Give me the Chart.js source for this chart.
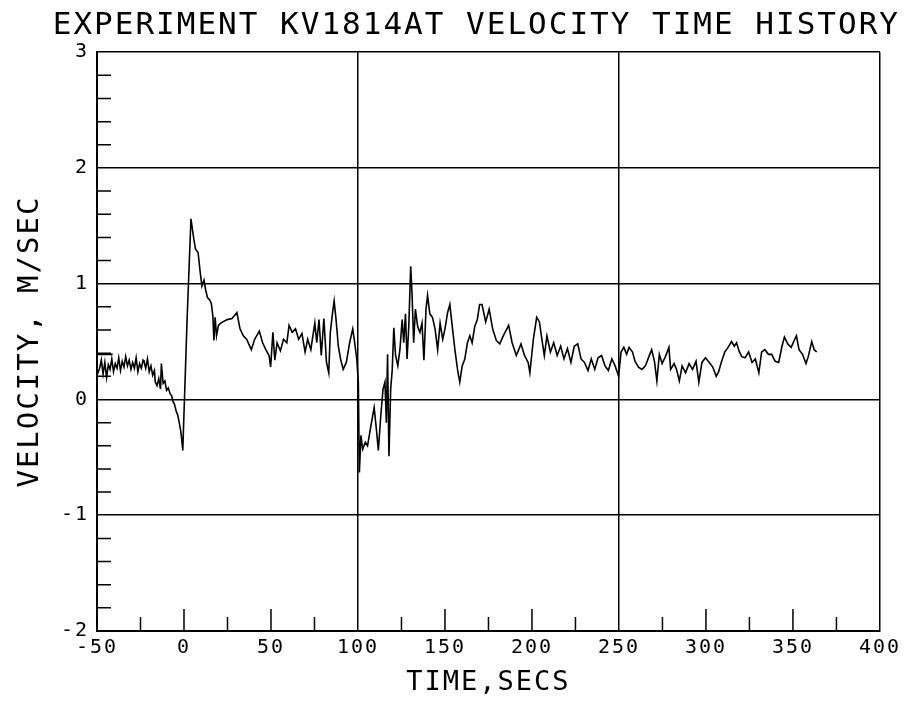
<!DOCTYPE html>
<html lang="en">
<head>
<meta charset="UTF-8" />
<title>KV1814AT Velocity Time History</title>
<script src="https://cdn.jsdelivr.net/npm/chart.js@4.4.1/dist/chart.umd.min.js"></script>
<style>
  html, body { margin:0; padding:0; background:#ffffff; }
  #v_chart { display:block; }
</style>
</head>
<body>
<canvas id="v_chart" width="906" height="705"></canvas>

<script>
// time history (secs, m/sec)
const timeSecs = [
  -41, -50, -50, -48.5, -47.5, -46.5, -45.5, -44.5, -43.5, -42.5, -41.5, -40.5, -39.5, -38.5, -37.5, -36.5, -35.5,
  -34.5, -33.5, -32.5, -31.5, -30.5, -29.5, -28.5, -27.5, -26.5, -25.5, -24.5, -23.5, -23, -22, -21, -20, -19,
  -18, -17, -16.5, -15.5, -14.5, -13.5, -13, -12, -11, -10, -9, -8, -7, -6.5, -5.5, -4.5, -3.5, -2.5, -1.8, -1.2,
  -0.7, 1.8, 4, 5.7, 6.6, 8.1, 9.3, 10.3, 11.5, 12.4, 13.5, 14.8, 15.7, 16.6, 17.2, 17.9, 18.7, 19.8, 21.1,
  24.8, 27.6, 30.4, 32.2, 34.1, 36, 38.7, 40.6, 43.3, 45.2, 47, 48.9, 49.8, 51.1, 52.2, 53.5, 55.4, 57.2, 59.1,
  60.4, 62.2, 64.1, 65.9, 67.8, 69.6, 71.1, 72.9, 75.2, 76.3, 77.6, 78.9, 80.4, 81.9, 83.2, 84.1, 85.4, 86.3,
  87.4, 88.7, 90, 91.5, 93.3, 95.2, 97, 98.1, 99.3, 100.2, 100.8, 101.7, 102.7, 104.2, 105.5, 107.4, 109.3,
  110.6, 111.7, 113.1, 114.4, 115.5, 116.3, 117, 117.8, 118.8, 119.7, 120.6, 121.6, 122.9, 124.1, 125.4, 126.3,
  127.3, 128.2, 129.2, 130.3, 131.1, 132, 133, 134.3, 135.6, 136.8, 137.9, 139.1, 140, 141.3, 142.8, 144.3,
  145.8, 147.2, 148.7, 150, 151.5, 152.8, 154.2, 155.7, 157.2, 158.5, 159.9, 161.4, 162.9, 164.3, 165.6, 167.1,
  168.6, 169.9, 171.3, 173.4, 175.4, 177.4, 179.5, 181.5, 183.5, 186.6, 188.6, 191, 193.7, 195.7, 197.8, 198.8,
  200.8, 202.7, 204.3, 205.7, 207.1, 208.6, 210.6, 212.5, 214.5, 216.5, 218.4, 220.4, 222.4, 224.3, 226.3,
  228.2, 230.2, 232.2, 234.1, 236.1, 238, 240, 242, 243.9, 245.9, 247.8, 249.8, 251.2, 252.8, 254.4, 255.8,
  257.8, 259.2, 261.2, 263.2, 265.2, 267.2, 268.8, 270.4, 271.8, 273.2, 274.8, 276.7, 278.7, 279.7, 281.7,
  283.1, 284.7, 286.3, 288.3, 290.3, 292.3, 294.3, 295.9, 297.7, 299.7, 301.9, 303.9, 305.9, 307.3, 308.8,
  310.8, 312.7, 314.7, 316.3, 317.6, 319, 320.6, 322.5, 324.5, 326.5, 328.4, 330.4, 332, 333.9, 335.9, 337.8,
  339.8, 341.8, 343.7, 345.1, 347, 349, 351, 352, 353.5, 355.5, 357.5, 358.8, 360.8, 362.2, 363.7
];
const velocity = [
  0.39, 0.39, 0.21, 0.27, 0.34, 0.22, 0.32, 0.19, 0.30, 0.26, 0.35, 0.24, 0.31, 0.27, 0.36, 0.25, 0.33,
  0.28, 0.37, 0.29, 0.34, 0.26, 0.32, 0.27, 0.36, 0.24, 0.31, 0.27, 0.34, 0.33, 0.27, 0.35, 0.24, 0.29,
  0.21, 0.25, 0.15, 0.12, 0.18, 0.09, 0.31, 0.14, 0.16, 0.08, 0.10, 0.05, 0.03, -0.01, -0.04, -0.10, -0.14, -0.22, -0.28, -0.36,
  -0.44, 0.70, 1.56, 1.38, 1.30, 1.27, 1.10, 0.98, 1.03, 0.95, 0.88, 0.86, 0.83, 0.72, 0.51, 0.71, 0.55, 0.64, 0.66,
  0.69, 0.70, 0.75, 0.61, 0.55, 0.52, 0.43, 0.52, 0.59, 0.49, 0.43, 0.38, 0.28, 0.58, 0.34, 0.49, 0.42, 0.52, 0.49,
  0.64, 0.58, 0.61, 0.52, 0.57, 0.41, 0.52, 0.43, 0.66, 0.49, 0.69, 0.38, 0.70, 0.32, 0.23, 0.58, 0.75, 0.85,
  0.69, 0.46, 0.35, 0.26, 0.32, 0.49, 0.61, 0.49, 0.35, 0.15, -0.63, -0.31, -0.43, -0.37, -0.40, -0.23, -0.07,
  -0.26, -0.44, -0.14, 0.09, 0.15, -0.20, 0.39, -0.49, 0.09, 0.26, 0.62, 0.38, 0.29, 0.43, 0.69, 0.49,
  0.74, 0.35, 0.63, 1.15, 0.90, 0.49, 0.78, 0.63, 0.58, 0.66, 0.34, 0.78, 0.90, 0.74, 0.71, 0.61,
  0.43, 0.66, 0.52, 0.61, 0.75, 0.82, 0.63, 0.43, 0.26, 0.15, 0.29, 0.35, 0.49, 0.55, 0.49, 0.63,
  0.69, 0.82, 0.82, 0.67, 0.78, 0.61, 0.51, 0.48, 0.55, 0.64, 0.49, 0.38, 0.48, 0.38, 0.32, 0.23,
  0.52, 0.71, 0.67, 0.52, 0.38, 0.55, 0.41, 0.49, 0.38, 0.46, 0.35, 0.44, 0.32, 0.46, 0.48,
  0.35, 0.32, 0.25, 0.35, 0.26, 0.36, 0.38, 0.29, 0.25, 0.35, 0.29, 0.20, 0.41, 0.45, 0.39, 0.45,
  0.41, 0.33, 0.28, 0.26, 0.29, 0.37, 0.43, 0.33, 0.16, 0.39, 0.31, 0.37, 0.45, 0.26, 0.31,
  0.26, 0.16, 0.29, 0.23, 0.31, 0.26, 0.33, 0.15, 0.32, 0.36, 0.32, 0.28, 0.20, 0.24, 0.32,
  0.41, 0.45, 0.50, 0.46, 0.49, 0.42, 0.37, 0.36, 0.41, 0.32, 0.35, 0.23, 0.41, 0.43, 0.39, 0.39,
  0.33, 0.32, 0.46, 0.54, 0.48, 0.45, 0.52, 0.55, 0.43, 0.39, 0.31, 0.37, 0.50, 0.43, 0.41
];

// axis marks
const xFullLines = [-50, 100, 250, 400];
const xInnerTicks = [-25, 0, 25, 50, 75, 125, 150, 175, 200, 225, 275, 300, 325, 350, 375];
const yInnerTicks = [-1.8, -1.6, -1.4, -1.2, -0.8, -0.6, -0.4, -0.2, 0.2, 0.4, 0.6, 0.8,
                     1.2, 1.4, 1.6, 1.8, 2.2, 2.4, 2.6, 2.8];

const FONT = "'DejaVu Sans Mono', monospace";
const LETTER_SP = '2px';

let vChart = document.getElementById('v_chart');

// pen-plotter look: wide lettering + short ticks drawn inside the frame
const plotterLook = {
	id: 'plotterLook',
	beforeLayout(chart) { chart.ctx.letterSpacing = LETTER_SP; },
	beforeDraw(chart) { chart.ctx.letterSpacing = LETTER_SP; },
	afterDraw(chart) {
		const ctx = chart.ctx;
		const a = chart.chartArea;
		const xs = chart.scales.x, ys = chart.scales.y;
		ctx.save();
		ctx.strokeStyle = '#000';
		ctx.lineWidth = 1.5;
		ctx.beginPath();
		xInnerTicks.forEach(v => {
			const px = xs.getPixelForValue(v);
			ctx.moveTo(px, a.bottom);
			ctx.lineTo(px, a.bottom - (v % 50 === 0 ? 22 : 14));
		});
		yInnerTicks.forEach(v => {
			const py = ys.getPixelForValue(v);
			ctx.moveTo(a.left, py);
			ctx.lineTo(a.left + 14, py);
		});
		ctx.stroke();
		ctx.restore();
	}
};

let vdata = {
	datasets: [{
		label: 'KV1814AT',
		data: timeSecs.map((t, i) => ({x: t, y: velocity[i]})),
		borderColor: '#000',
		borderWidth: 1.6,
		pointRadius: 0,
		tension: 0,
		fill: false
	}]
};

let voptions = {
	responsive: false,
	animation: false,
	events: [],
	layout: {padding: {left: 0, right: 6, top: 0, bottom: 0}},
	scales: {
		x: {
			type: 'linear', min: -50, max: 400,
			afterFit: s => { s.height = 74; },
			grid: {
				drawTicks: false,
				lineWidth: 1.5,
				color: c => (c.tick && xFullLines.includes(c.tick.value)) ? '#000' : 'rgba(0,0,0,0)'
			},
			border: {display: true, color: '#000', width: 2},
			ticks: {stepSize: 50, autoSkip: false, maxRotation: 0, padding: 5, color: '#000',
				font: {family: FONT, size: 20}},
			title: {display: true, text: 'TIME,SECS', color: '#000', padding: {top: 0, bottom: 6},
				font: {family: FONT, size: 27}}
		},
		y: {
			type: 'linear', min: -2, max: 3,
			afterFit: s => { s.width = 97; },
			grid: {drawTicks: false, lineWidth: 1.5, color: '#000'},
			border: {display: true, color: '#000', width: 2},
			ticks: {stepSize: 1, padding: 8, color: '#000', font: {family: FONT, size: 20}},
			title: {display: true, text: 'VELOCITY, M/SEC', color: '#000', padding: {top: 13, bottom: 0},
				font: {family: FONT, size: 29}}
		},
		pad: {
			type: 'linear', position: 'right',
			afterFit: s => { s.width = 18; },
			grid: {display: false}, border: {display: false}, ticks: {display: false}
		}
	},
	plugins: {
		legend: {display: false},
		tooltip: {enabled: false},
		title: {
			display: true,
			text: 'EXPERIMENT KV1814AT VELOCITY TIME HISTORY',
			align: 'end',
			color: '#000',
			font: {family: FONT, size: 31, weight: 'normal'},
			padding: {top: 7, bottom: 8}
		}
	}
};

let vmChart = new Chart(vChart, {
	type: 'line',
	data: vdata,
	options: voptions,
	plugins: [plotterLook]
});
</script>
</body>
</html>
